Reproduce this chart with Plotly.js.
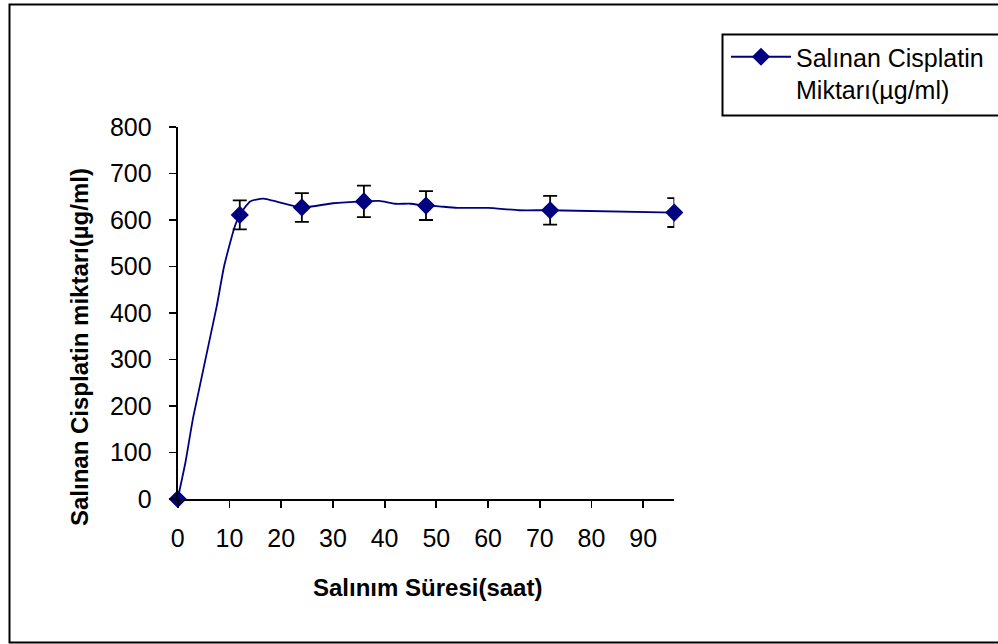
<!DOCTYPE html>
<html>
<head>
<meta charset="utf-8">
<script src="https://cdn.plot.ly/plotly-3.0.1.min.js"></script>
<style>html,body{margin:0;padding:0;background:#fff;}#chart{width:998px;height:644px;}</style>
</head>
<body>
<div id="chart"></div>
<script>
// Measured points (with error bars)
const hours = [0, 12, 24, 36, 48, 72, 96];
const released = [0, 611, 627, 640, 631, 621, 616];
const errors = [0, 31, 31, 34, 31, 31, 31];
// Smoothed release curve
const curveHours = [0, 1.5, 3, 7.5, 9, 11, 12, 14, 16.5, 24, 30, 36, 39, 42, 45, 48, 50, 54, 60, 66, 72, 96];
const curveValues = [0, 79, 176, 412, 502, 585, 611, 640, 646, 627, 636, 640, 641, 635, 635, 631, 630, 626, 626, 621, 621, 616];
const xTicks = [0, 10, 20, 30, 40, 50, 60, 70, 80, 90];
const yTicks = [0, 100, 200, 300, 400, 500, 600, 700, 800];
const seriesName = 'Salınan Cisplatin<br>Miktarı(µg/ml)';
const xTitle = 'Salınım Süresi(saat)';
const yTitle = 'Salınan Cisplatin miktarı(µg/ml)';

const W = 998, H = 644;
const px = v => v / W;
const py = v => 1 - v / H;
const navy = '#000080';
const font = 'Liberation Sans, Arial, sans-serif';

const traces = [
  {x: curveHours, y: curveValues, mode: 'lines', type: 'scatter',
   line: {color: navy, width: 1.8, shape: 'spline', smoothing: 0.5},
   showlegend: false, hoverinfo: 'skip', cliponaxis: false},
  {x: hours, y: released, mode: 'markers', type: 'scatter',
   marker: {symbol: 'diamond', size: 14, color: navy},
   error_y: {type: 'data', array: errors, visible: true, color: '#000', thickness: 1.8, width: 7},
   showlegend: false, cliponaxis: false},
  {x: [null], y: [null], mode: 'lines+markers', type: 'scatter', name: seriesName,
   line: {color: navy, width: 1.8}, marker: {symbol: 'diamond', size: 14, color: navy},
   showlegend: true}
];

const layout = {
  width: W, height: H,
  margin: {l: 0, r: 0, t: 0, b: 0},
  paper_bgcolor: '#fff', plot_bgcolor: 'rgba(0,0,0,0)',
  font: {family: font, color: '#000', size: 25},
  xaxis: {domain: [px(177.7), px(674.3)], range: [0, 96], tickvals: xTicks,
    showgrid: false, zeroline: false, showline: true, linecolor: '#000', linewidth: 2,
    ticks: 'outside', ticklen: 7, tickwidth: 1.8, tickcolor: '#000',
    tickfont: {family: font, size: 25, color: '#000'}, ticklabelstandoff: 9, fixedrange: true},
  yaxis: {domain: [py(499), py(127)], range: [0, 800], tickvals: yTicks,
    showgrid: false, zeroline: false, showline: true, linecolor: '#000', linewidth: 2,
    ticks: 'outside', ticklen: 7, tickwidth: 1.8, tickcolor: '#000',
    tickfont: {family: font, size: 25, color: '#000'}, ticklabelstandoff: 12, fixedrange: true},
  showlegend: true,
  legend: {x: px(726), y: py(34), xanchor: 'left', yanchor: 'top', bgcolor: 'rgba(0,0,0,0)',
    borderwidth: 0, itemwidth: 60, valign: 'top', font: {family: font, size: 25, color: '#000'}},
  annotations: [
    {text: '<b>' + xTitle + '</b>', xref: 'paper', yref: 'paper', x: px(427), y: py(587),
     xanchor: 'center', yanchor: 'middle', showarrow: false, font: {family: font, size: 24, color: '#000'}},
    {text: '<b>' + yTitle + '</b>', xref: 'paper', yref: 'paper', x: px(79), y: py(347),
     xanchor: 'center', yanchor: 'middle', textangle: -90, showarrow: false, font: {family: font, size: 24, color: '#000'}}
  ],
  shapes: [
    {type: 'rect', xref: 'paper', yref: 'paper', x0: px(9.5), x1: px(1010), y0: py(4.5), y1: py(642.5),
     line: {color: '#000', width: 2}, fillcolor: 'rgba(0,0,0,0)', layer: 'below'},
    {type: 'rect', xref: 'paper', yref: 'paper', x0: px(722.5), x1: px(1010), y0: py(34.5), y1: py(115.5),
     line: {color: '#000', width: 2}, fillcolor: 'rgba(0,0,0,0)', layer: 'below'}
  ]
};

Plotly.newPlot('chart', traces, layout, {displayModeBar: false, staticPlot: true});
</script>
</body>
</html>
